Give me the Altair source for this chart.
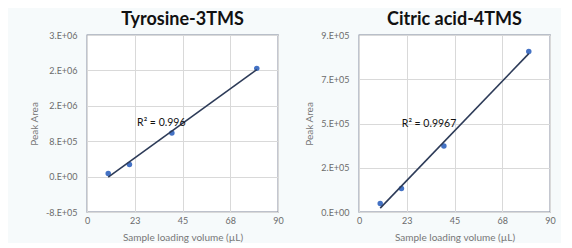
import altair as alt
import pandas as pd

volume = [10, 20, 40, 80]
tyrosine_area = [69000, 274000, 983000, 2446000]
citric_area = [43000, 119000, 336000, 816000]

x_ticks = [0, 22.5, 45, 67.5, 90]
x_labels = ["0", "23", "45", "68", "90"]
left_y_ticks = [-800000, 0, 800000, 1600000, 2400000, 3200000]
left_y_labels = ["-8.E+05", "0.E+00", "8.E+05", "2.E+06", "2.E+06", "3.E+06"]
right_y_ticks = [0, 225000, 450000, 675000, 900000]
right_y_labels = ["0.E+00", "2.E+05", "5.E+05", "7.E+05", "9.E+05"]

titles = ["Tyrosine-3TMS", "Citric acid-4TMS"]
r2_labels = ["R² = 0.996", "R² = 0.9967"]


def label_expr(ticks, labels):
    expr = "''"
    for t, l in reversed(list(zip(ticks, labels))):
        expr = f"(abs(datum.value - ({t})) < 0.001 ? '{l}' : {expr})"
    return expr


def panel(title, areas, ticks, labels, r2, ann_x, ann_y):
    df = pd.DataFrame({"v": volume, "a": areas})
    base = alt.Chart(df)
    xenc = alt.X(
        "v:Q",
        scale=alt.Scale(domain=[x_ticks[0], x_ticks[-1]], nice=False),
        axis=alt.Axis(values=x_ticks, tickCount=len(x_ticks) + 2,
                      labelExpr=label_expr(x_ticks, x_labels),
                      title="Sample loading volume (µL)", labelFlush=False,
                      labelOverlap=False, labelPadding=4, titlePadding=7),
    )
    yenc = alt.Y(
        "a:Q",
        scale=alt.Scale(domain=[ticks[0], ticks[-1]], nice=False, zero=False),
        axis=alt.Axis(values=ticks, tickCount=len(ticks) + 2,
                      labelExpr=label_expr(ticks, labels),
                      title="Peak Area", labelPadding=10, titlePadding=6,
                      labelOverlap=False, labelFlush=False),
    )
    pts = base.mark_circle(size=30, color="#4472c4", opacity=1).encode(x=xenc, y=yenc)
    line = base.transform_regression("v", "a", extent=[10, 80]).mark_line(
        color="#2d3b58", strokeWidth=1.6).encode(x=xenc, y=yenc)
    txt = alt.Chart(pd.DataFrame({"label": [r2]})).mark_text(
        font="Lato", fontSize=10.5, color="#111111").encode(
        x=alt.datum(ann_x), y=alt.datum(ann_y), text="label:N")
    return alt.layer(pts, line, txt).properties(
        width=191, height=177,
        title=alt.TitleParams(title, fontSize=18, font="Lato", fontWeight="bold",
                              color="#111111", anchor="middle", offset=2),
    )


left = panel(titles[0], tyrosine_area, left_y_ticks, left_y_labels, r2_labels[0], 35, 1210000)
right = panel(titles[1], citric_area, right_y_ticks, right_y_labels, r2_labels[1], 33, 447000)

chart = alt.hconcat(left, right, spacing=20).properties(
    background="#f6fafb",
    padding={"left": 20, "top": 2, "right": 5, "bottom": 0},
).configure_view(
    stroke="#7d8498", strokeWidth=1.3, fill="white"
).configure_axis(
    labelFont="Lato", labelFontSize=9, labelColor="#6b6b6b",
    titleFont="Lato", titleFontSize=10, titleColor="#777777", titleFontWeight="normal",
    ticks=False, domain=False, gridColor="#d9d9d9", gridWidth=1,
)

chart.save("out.html", embed_options={"renderer": "svg", "actions": False})
